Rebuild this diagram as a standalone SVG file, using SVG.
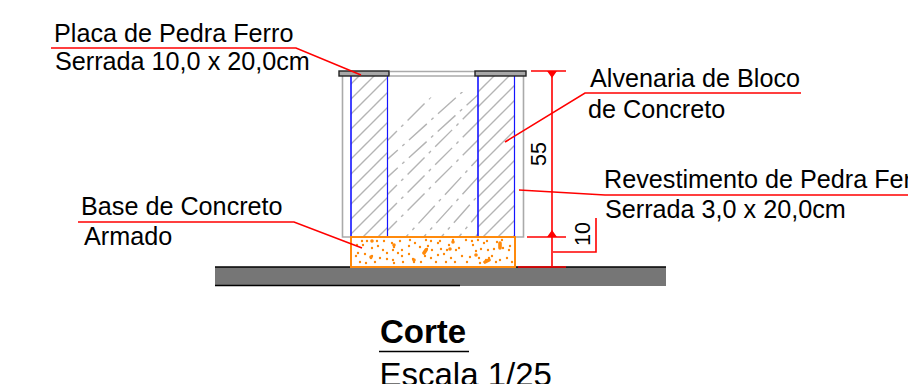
<svg xmlns="http://www.w3.org/2000/svg" width="908" height="384" viewBox="0 0 908 384">
<style>
text{font-family:"Liberation Sans",Arial,sans-serif;fill:#000;font-size:25.200px}
text.big{font-size:33px}
text.dim{font-size:21.500px}
.r{stroke:#f00;stroke-width:1.600;fill:none}
.g{stroke:#aaa;stroke-width:1.600;fill:none}
.b{stroke:#1414ff;fill:none}
.o{stroke:#ff8a0c;fill:none}
.h{stroke:#b4b4b4;stroke-width:1.400;fill:none}
.cap{fill:#a8a8a8;stroke:#222;stroke-width:1.400}
</style>
<defs>
<pattern id="hatch" patternUnits="userSpaceOnUse" width="15" height="15"><path class="h" d="M-2 17L17 -2M-2 2L2 -2M13 17L17 13"/></pattern>
<clipPath id="mid"><path d="M388 128L438 92L478 92L478 237L388 237Z"/></clipPath>
</defs>
<g id="ground">
<rect x="215" y="267" width="451" height="19" fill="#767676"/>
<path d="M215 267H666" stroke="#000" stroke-width="1.600"/>
<path d="M215 285.500H460" stroke="#000" stroke-width="1.400"/>
</g>
<g id="wall">
<rect x="351" y="76" width="36" height="161" fill="url(#hatch)"/>
<rect x="478" y="76" width="36" height="161" fill="url(#hatch)"/>
<path class="h" clip-path="url(#mid)" stroke-dasharray="24 6 3 6" d="M380 148L450 78M380 166L480 76M380 184L490 84M380 202L490 92M380 220L490 110M380 238L490 128M392 252L490 146M410 252L490 164M428 252L490 182M446 252L490 200M464 252L490 218"/>
<path class="g" d="M342.500 76V237H523.500V76M390 71.500H475M390 76H475"/>
<path class="b" stroke-width="1.600" d="M351 76V237M478 76V237"/>
<path class="b" stroke-width="1.200" d="M387.500 76V237M514.500 76V237"/>
</g>
<g id="caps">
<rect class="cap" x="339" y="71" width="50" height="5"/>
<rect class="cap" x="475" y="71" width="51" height="5"/>
</g>
<g id="base">
<rect class="o" stroke-width="2" x="351" y="237" width="164" height="30"/>
<path stroke="#ff8a0c" stroke-width="2.400" stroke-linecap="round" fill="none" d="M362 241h0M363 245h0M356 256h0M358 253h0M365 254h0M372 256h0M371 258h0M377 241h0M378 246h0M384 241h0M392 243h0M393 250h0M394 247h0M400 241h0M402 250h0M387 253h0M387 259h0M393 260h0M394 263h0M402 256h0M403 262h0M409 246h0M410 240h0M415 243h0M413 259h0M414 262h0M420 247h0M424 253h0M427 249h0M428 246h0M426 240h0M431 241h0M432 250h0M438 243h0M440 241h0M438 255h0M444 254h0M447 250h0M449 245h0M453 240h0M456 250h0M459 248h0M466 240h0M472 241h0M473 245h0M478 240h0M484 243h0M487 241h0M488 250h0M486 260h0M489 258h0M492 256h0M497 242h0M502 240h0M503 248h0M510 246h0M507 258h0M512 262h0M360 262h0M366 263h0M375 262h0M380 258h0M372 248h0M446 262h0M451 258h0M455 262h0M462 256h0M467 262h0M470 257h0M476 251h0M479 258h0M481 249h0M496 262h0M500 260h0M509 250h0M425 256h0M431 258h0M436 262h0M421 262h0M398 253h0M357 245h0M367 241h0M383 250h0M409 254h0M441 249h0M494 249h0M480 263h0"/>
<path stroke="#ff8a0c" stroke-width="3.600" stroke-linecap="round" fill="none" d="M394 245h0M426 250l-2 3M476 255h0M371 257h0M414 260h0M450 249h0M489 260l-4 2M500 243v5M372 241h0M453 242h0"/>
</g>
<g id="dimensions">
<path class="r" d="M552 71V267M531 71H566M527 237H566M518 267H566M553 252H596V218"/>
<path fill="#f00" d="M547 71H557L552 78ZM547 237H557L552 230Z"/>
<text class="dim" transform="translate(546 166) rotate(-90)">55</text>
<text class="dim" transform="translate(590 246) rotate(-90)">10</text>
</g>
<g id="connectors">
<path class="r" d="M51 48H296L361 75"/>
<path class="r" d="M801 93H585L505 142"/>
<path class="r" d="M908 195H605L519 190"/>
<path class="r" d="M78 222H294L362 248"/>
<path stroke="#000" stroke-width="1.600" d="M379 351.500H469"/>
</g>
<g id="labels">
<text x="54" y="42">Placa de Pedra Ferro</text>
<text x="55" y="70">Serrada 10,0 x 20,0cm</text>
<text x="590" y="87">Alvenaria de Bloco</text>
<text x="588" y="118">de Concreto</text>
<text x="604" y="188">Revestimento de Pedra Ferro</text>
<text x="605" y="218">Serrada 3,0 x 20,0cm</text>
<text x="81" y="215">Base de Concreto</text>
<text x="84" y="245">Armado</text>
<text class="big" x="380" y="343" font-weight="700">Corte</text>
<text class="big" x="379.500" y="386">Escala 1/25</text>
</g>
</svg>
